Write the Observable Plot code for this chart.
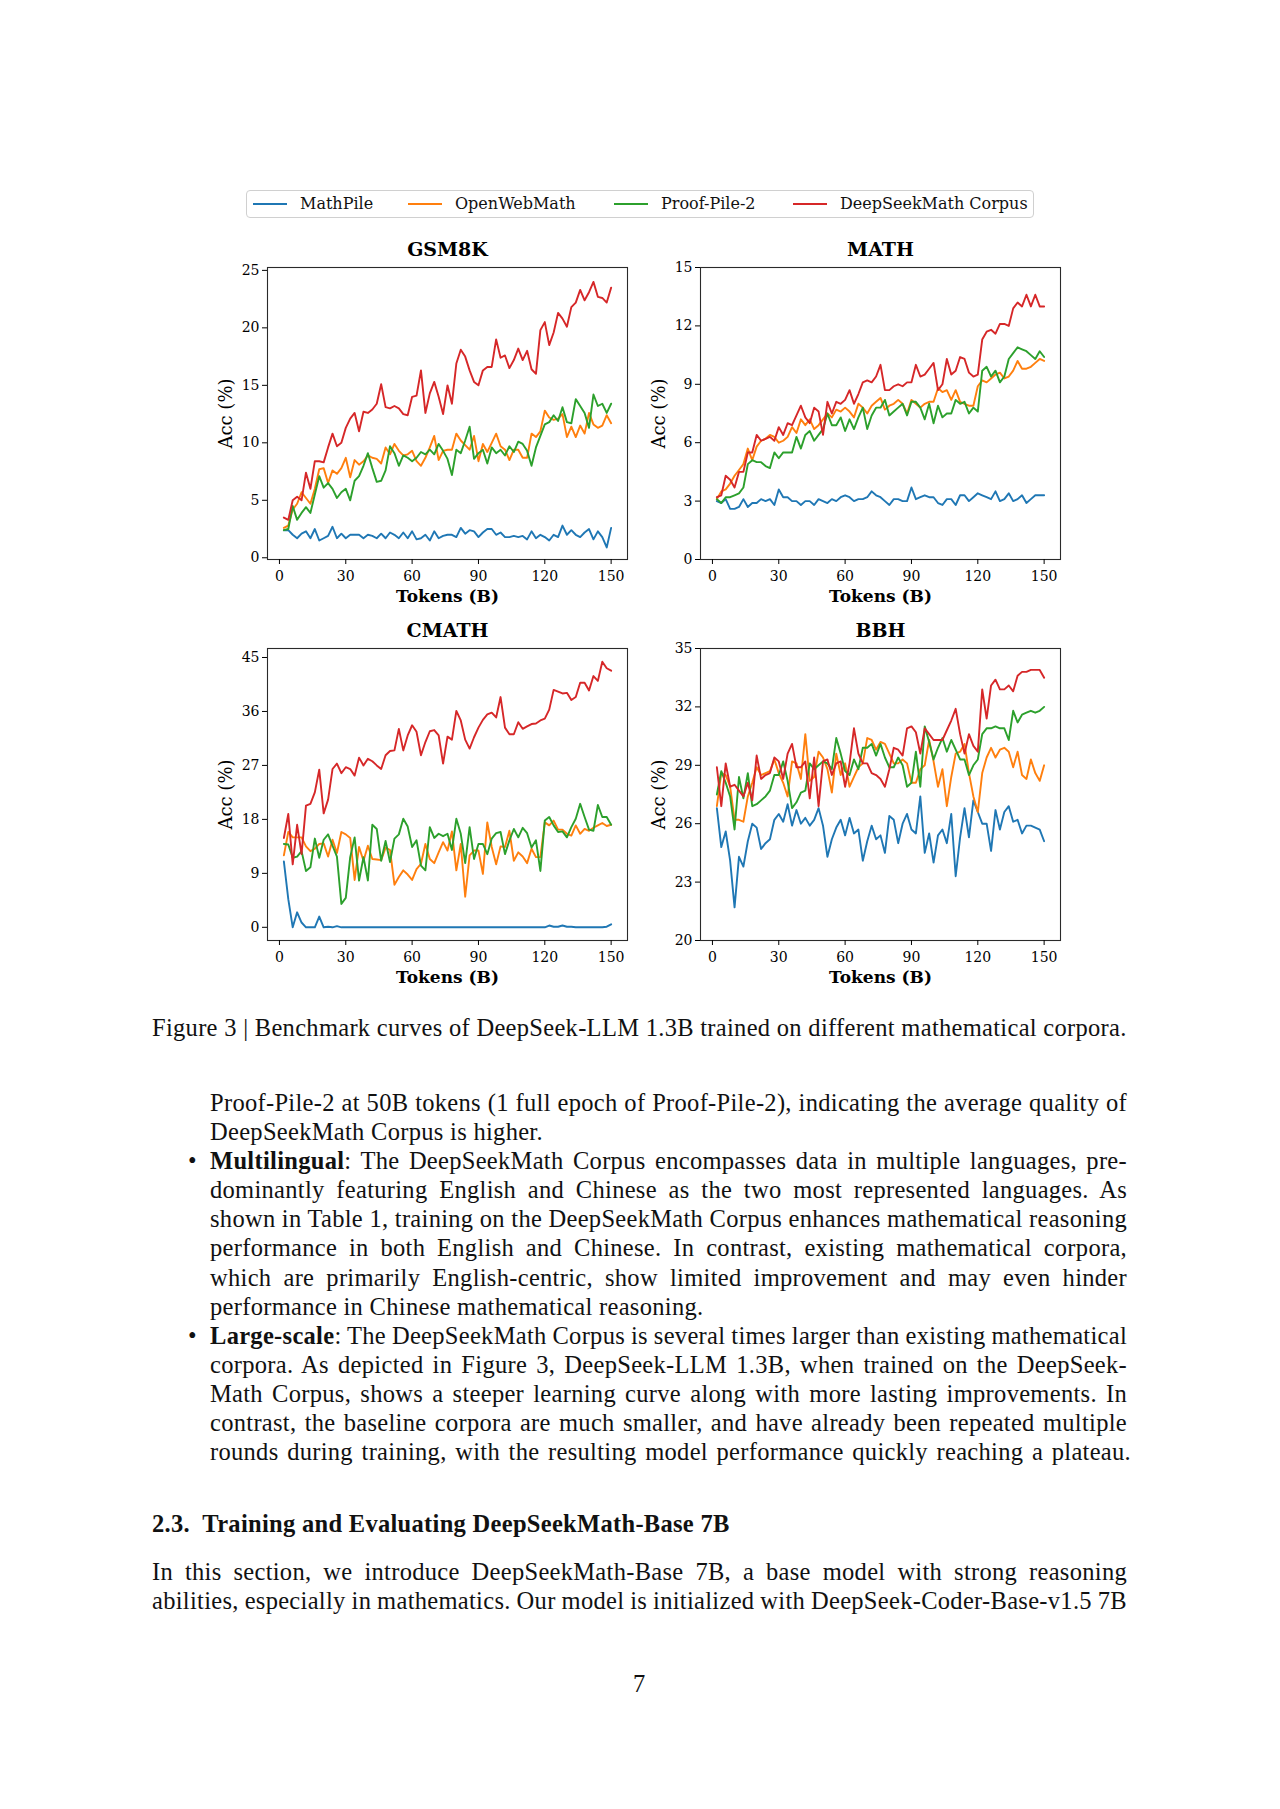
<!DOCTYPE html>
<html><head><meta charset="utf-8">
<script src="https://cdn.jsdelivr.net/npm/d3@7"></script>
<script src="https://cdn.jsdelivr.net/npm/@observablehq/plot@0.6"></script>
<style>
html,body{margin:0;padding:0;background:#fff;}
body{width:1280px;height:1809px;position:relative;overflow:hidden;color:#111;font-family:"Liberation Serif",serif;}
.panel{position:absolute;}
.panel svg{overflow:visible;}
#legend{position:absolute;left:246px;top:190px;width:788px;height:28px;border:1px solid #d0d0d0;border-radius:4px;box-sizing:border-box;font-family:"DejaVu Serif",serif;font-size:16px;color:#111;}
.lgline{position:absolute;top:12px;width:34px;height:2px;}
.lgtext{position:absolute;top:0;line-height:26px;white-space:nowrap;}
.tl{position:absolute;font-size:24.5px;letter-spacing:0.3px;line-height:29px;height:29px;white-space:nowrap;}
.tl b{font-weight:bold;}
</style>
</head><body>
<div id="legend"></div>
<div id="p0" class="panel"></div>
<div id="p1" class="panel"></div>
<div id="p2" class="panel"></div>
<div id="p3" class="panel"></div>

<div class="tl" style="left:152px;top:1013px;">Figure 3 | Benchmark curves of DeepSeek-LLM 1.3B trained on different mathematical corpora.</div>

<div class="tl j" data-w="917" style="left:210px;top:1088px;">Proof-Pile-2 at 50B tokens (1 full epoch of Proof-Pile-2), indicating the average quality of</div>
<div class="tl" style="left:210px;top:1117px;">DeepSeekMath Corpus is higher.</div>

<div class="tl" style="left:188px;top:1146px;">•</div>
<div class="tl j" data-w="917" style="left:210px;top:1146px;"><b>Multilingual</b>: The DeepSeekMath Corpus encompasses data in multiple languages, pre-</div>
<div class="tl j" data-w="917" style="left:210px;top:1175px;">dominantly featuring English and Chinese as the two most represented languages. As</div>
<div class="tl j" data-w="917" style="left:210px;top:1204px;">shown in Table 1, training on the DeepSeekMath Corpus enhances mathematical reasoning</div>
<div class="tl j" data-w="917" style="left:210px;top:1233px;">performance in both English and Chinese. In contrast, existing mathematical corpora,</div>
<div class="tl j" data-w="917" style="left:210px;top:1263px;">which are primarily English-centric, show limited improvement and may even hinder</div>
<div class="tl" style="left:210px;top:1292px;">performance in Chinese mathematical reasoning.</div>

<div class="tl" style="left:188px;top:1321px;">•</div>
<div class="tl j" data-w="917" style="left:210px;top:1321px;"><b>Large-scale</b>: The DeepSeekMath Corpus is several times larger than existing mathematical</div>
<div class="tl j" data-w="917" style="left:210px;top:1350px;">corpora. As depicted in Figure 3, DeepSeek-LLM 1.3B, when trained on the DeepSeek-</div>
<div class="tl j" data-w="917" style="left:210px;top:1379px;">Math Corpus, shows a steeper learning curve along with more lasting improvements. In</div>
<div class="tl j" data-w="917" style="left:210px;top:1408px;">contrast, the baseline corpora are much smaller, and have already been repeated multiple</div>
<div class="tl j" data-w="921" style="left:210px;top:1437px;">rounds during training, with the resulting model performance quickly reaching a plateau.</div>

<div class="tl" style="left:152px;top:1509px;font-weight:bold;">2.3.&nbsp; Training and Evaluating DeepSeekMath-Base 7B</div>

<div class="tl j" data-w="975" style="left:152px;top:1557px;">In this section, we introduce DeepSeekMath-Base 7B, a base model with strong reasoning</div>
<div class="tl j" data-w="975" style="left:152px;top:1586px;">abilities, especially in mathematics. Our model is initialized with DeepSeek-Coder-Base-v1.5 7B</div>

<div class="tl" style="left:633px;top:1669px;">7</div>

<script>
// ---------------- data ----------------
const tokens = [2,4,6,8,10,12,14,16,18,20,22,24,26,28,30,32,34,36,38,40,42,44,46,48,50,52,54,56,58,60,62,64,66,68,70,72,74,76,78,80,82,84,86,88,90,92,94,96,98,100,102,104,106,108,110,112,114,116,118,120,122,124,126,128,130,132,134,136,138,140,142,144,146,148,150];
const seriesNames = ["MathPile", "OpenWebMath", "Proof-Pile-2", "DeepSeekMath Corpus"];
const seriesColors = ["#1f77b4", "#ff7f0e", "#2ca02c", "#d62728"];
const panelTitles = ["GSM8K", "MATH", "CMATH", "BBH"];
const xTicks = [0, 30, 60, 90, 120, 150];
const gsm8kTicks = [0, 5, 10, 15, 20, 25];
const mathTicks = [0, 3, 6, 9, 12, 15];
const cmathTicks = [0, 9, 18, 27, 36, 45];
const bbhTicks = [20, 23, 26, 29, 32, 35];
const xLabel = "Tokens (B)";
const yLabel = "Acc (%)";

const gsm8kMathPile = [2.4,2.4,2.0,1.7,2.1,2.3,1.7,2.5,1.5,1.7, 1.9,2.7,1.7,2.1,1.7,2.0,2.0,2.0,1.7,2.0, 1.9,1.7,2.1,1.7,2.2,2.0,1.7,2.2,1.7,2.3, 1.6,1.7,2.0,1.5,2.3,1.7,1.9, 2.0,2.0,1.8,2.6,2.1,2.4,2.3,1.8,2.2,2.5,2.5,2.0,2.2,1.8,1.8,1.9,1.8,1.9,1.6,2.3,1.7,2.0,1.8,1.5,2.0,1.8,2.8,2.0,2.4,2.0,1.8,2.2,2.5,1.6,2.3,1.8,0.9,2.6];
const gsm8kOpenWebMath = [2.6,2.8,4.2,4.7,5.7,5.2,4.7,6.0,7.7,7.8, 6.5,7.6,7.3,7.8,8.7,7.0,8.5,8.1,8.4,8.9, 8.7,8.6,8.2,9.6,9.0,9.9,9.3,8.9,9.0,9.3, 8.4,8.0,8.7,9.6,10.6,8.5,9.3, 9.4,9.4,10.8,10.2,9.8,9.4,10.6,8.4,9.9,9.2,10.0,10.8,9.7,9.4,8.5,9.4,9.4,8.7,8.7,10.8,10.5,11.0,12.8,12.2,12.0,12.1,12.5,10.5,11.4,10.5,11.5,10.8,12.6,11.6,11.3,11.5,12.4,11.7];
const gsm8kProofPile2 = [2.4,2.5,4.5,3.3,3.9,4.4,3.9,5.5,7.1,6.1, 6.5,6.0,5.2,5.7,6.0,5.0,6.7,7.1,8.0,9.1, 7.8,6.6,6.7,7.6,9.7,9.1,8.0,8.9,8.7,8.4, 8.7,9.2,9.0,9.4,9.0,9.9,9.3, 8.6,7.2,9.4,9.1,10.2,11.4,8.6,9.1,9.4,8.2,9.6,9.1,9.4,8.9,9.7,9.2,10.1,9.9,9.3,8.0,9.6,10.6,11.6,11.8,12.4,11.9,13.1,11.8,11.7,13.8,13.2,12.6,11.3,14.2,13.2,13.4,12.6,13.4];
const gsm8kDeepSeekMath = [3.5,3.3,5.0,5.3,5.0,7.4,6.0,8.4,8.4,8.3, 9.6,10.8,9.7,10.0,11.3,12.1,12.6,11.0,12.7,12.6, 12.9,13.4,15.1,13.1,13.0,13.2,13.0,12.5,12.4,14.0, 14.1,16.3,12.6,14.3,15.3,14.0,12.5,15.0,13.4,16.9, 18.1,17.5,16.3,15.3,15.0,16.3,16.6,16.6,19.0,17.4, 17.6,16.5,17.2,18.2,17.2,18.0,16.4,16.0,19.8,20.5, 18.5,19.6,21.3,20.8,20.1,21.8,22.2,23.3,22.4,23.1, 24.0,22.7,22.6,22.2,23.5];

const mathMathPile = [3.0,2.9,3.1,2.6,2.6,2.7,3.1,2.7,2.9,2.9, 3.1,3.0,3.1,2.8,3.6,3.2,3.2,3.0,3.0,2.8, 3.0,3.0,2.8,3.1,3.0,2.9,3.1,3.0,3.2,3.3, 3.2,3.0,3.1,3.1,3.2,3.5,3.3, 3.2,3.0,2.8,3.1,3.1,3.0,3.0,3.7,3.1,3.2,3.3,3.2,3.2,2.9,2.8,3.1,3.1,2.8,3.3,3.3,3.0,3.2,3.4,3.3,3.2,3.1,3.5,3.0,3.1,3.4,3.0,3.1,3.3,2.9,3.1,3.3,3.3,3.3];
const mathOpenWebMath = [3.1,3.5,3.6,3.9,4.3,4.6,4.9,5.7,5.1,5.8, 6.1,6.2,6.4,6.3,6.0,6.1,6.3,6.8,6.5,7.2, 6.9,7.2,6.7,6.9,7.2,7.5,7.3,7.7,7.6,7.8, 7.6,7.3,8.0,7.8,7.5,7.9,8.1, 8.3,7.7,7.9,8.0,8.2,8.0,7.5,8.2,8.0,7.8,8.0,8.1,8.1,8.8,8.6,8.7,8.2,8.7,8.1,8.0,7.9,7.9,8.9,9.2,9.1,9.3,9.5,9.6,9.3,9.4,9.7,10.2,9.8,9.8,9.9,10.1,10.3,10.2];
const mathProofPile2 = [3.1,2.9,3.2,3.2,3.3,3.4,3.7,4.9,5.1,5.0, 5.0,4.8,4.7,5.5,5.2,5.5,5.5,5.5,6.3,5.7, 6.4,6.6,6.1,6.4,6.7,7.5,6.9,6.9,7.3,6.6, 7.2,6.7,7.3,7.8,6.7,7.4,7.8, 7.8,8.2,7.4,7.6,7.8,8.0,7.4,8.1,8.1,7.8,7.2,8.0,7.0,7.9,7.3,7.5,7.5,8.2,8.0,8.1,7.5,7.8,7.6,9.7,9.9,9.4,9.7,9.1,9.4,10.3,10.6,10.9,10.8,10.7,10.5,10.3,10.7,10.4];
const mathDeepSeekMath = [3.2,3.3,4.3,4.1,3.7,4.5,4.5,5.5,5.5,6.4, 6.1,6.2,6.3,6.1,6.8,6.4,7.0,6.9,7.4,7.9, 7.3,7.0,7.8,7.6,6.4,8.1,7.5,8.1,8.0,8.2, 8.7,8.0,8.5,9.1,9.2,9.1,9.4, 10.0,8.7,8.7,8.9,9.0,8.9,9.1,9.1,10.0,9.4,9.5,9.8,10.1,8.7,9.0,10.3,9.5,9.7,10.4,10.3,9.6,9.4,9.5,11.3,11.7,11.8,11.6,12.1,12.1,12.0,12.9,13.2,13.0,13.6,13.0,13.6,13.0,13.0];

const cmathMathPile = [11.0,4.7,0.0,2.5,0.8,0,0,0,1.8,0, 0.1,0,0.2,0,0,0,0,0,0,0, 0,0,0,0,0,0,0,0,0,0, 0,0,0,0,0,0,0,0,0,0, 0,0,0,0,0,0,0,0,0,0, 0,0,0,0,0,0,0,0,0,0, 0.3,0.1,0.1,0.3,0.1,0.1,0,0,0,0, 0,0,0,0.1,0.5];
const cmathOpenWebMath = [12.0,15.9,15.0,15.0,15.0,13.5,12.7,13.1,13.9,14.0, 11.8,14.6,12.4,15.9,15.5,14.9,7.9,13.4,11.1,13.6, 11.4,11.3,11.2,13.3,12.9,7.1,8.4,9.5,8.8,7.9, 9.7,10.6,13.9,11.4,10.7,12.5,14.2, 12.8,16.0,9.5,13.9,5.1,12.0,12.8,12.8,8.9,17.5,13.4,10.5,13.5,13.4,16.1,11.1,12.5,11.8,10.7,13.1,11.7,11.7,17.5,17.0,17.8,16.3,16.3,15.6,15.3,17.0,15.6,16.4,16.1,16.6,17.0,17.4,16.9,17.1];
const cmathProofPile2 = [13.9,13.8,11.6,11.8,12.7,9.4,10.0,14.8,11.6,14.6, 15.5,13.6,11.8,3.9,4.9,11.7,15.0,7.8,11.7,7.8, 17.1,16.4,11.1,14.4,10.9,14.8,15.5,18.1,16.8,13.4, 14.5,10.3,9.5,16.7,14.9,15.6,15.2, 15.6,12.9,18.1,15.6,10.7,16.7,11.4,13.9,13.9,12.2,14.8,15.7,15.9,12.2,14.5,16.4,15.0,16.6,15.7,13.3,14.5,9.4,17.8,18.4,17.0,15.9,16.0,15.0,16.7,18.1,20.6,18.4,16.3,16.1,20.4,18.4,18.4,17.1];
const cmathDeepSeekMath = [14.9,18.9,10.5,17.1,12.2,20.3,20.6,22.5,26.3,19.0, 21.3,26.4,27.3,25.7,26.7,26.4,25.3,28.3,27.0,28.1, 27.7,27.0,26.4,28.7,29.4,29.5,33.1,29.5,32.0,33.7, 32.6,28.7,30.9,32.7,32.9,32.0,27.3, 31.8,31.3,36.1,34.5,31.3,29.8,31.7,33.3,34.6,35.5,35.8,35.0,38.4,33.3,32.2,32.2,34.2,33.1,33.5,33.9,34.0,34.5,34.8,36.3,39.6,39.3,39.0,39.1,37.9,38.4,40.8,40.8,39.5,41.9,41.1,44.3,43.2,42.8];

const bbhMathPile = [26.8,24.8,25.6,24.1,21.7,24.3,23.8,25.1,26.0,25.8, 24.7,25.0,25.2,26.2,26.5,26.1,27.0,25.9,26.7,26.0, 26.3,25.9,26.2,26.8,25.9,24.3,25.2,25.8,26.2,25.4, 26.3,25.5,25.7,24.1,25.1,25.9,25.2, 25.4,24.5,26.4,26.2,25.0,26.0,26.5,25.7,25.5,27.4,24.5,25.5,24.0,25.4,25.7,25.0,26.5,23.3,25.3,26.8,25.3,27.2,26.6,26.0,26.0,24.6,26.7,25.7,26.6,26.9,26.1,26.2,25.5,25.9,25.9,25.8,25.7,25.1];
const bbhOpenWebMath = [26.9,28.6,28.5,27.9,26.2,26.2,26.1,27.4,28.1,28.9, 28.5,28.6,28.7,29.3,28.6,28.1,27.4,29.2,29.1,28.3, 30.6,28.2,28.4,29.7,29.4,28.8,27.6,29.6,28.5,29.1, 27.9,28.4,28.9,29.1,30.4,30.3,29.8, 30.2,30.1,29.6,29.1,29.1,29.3,29.1,28.1,28.1,28.8,29.0,30.3,29.2,27.9,28.8,26.9,28.4,29.6,29.7,30.1,28.6,27.4,26.6,28.6,29.4,29.9,29.4,29.8,29.9,29.7,28.9,29.7,28.5,28.3,29.3,28.6,28.2,29.0];
const bbhProofPile2 = [27.5,28.7,28.1,27.4,25.7,28.4,27.3,28.6,26.9,27.0, 27.2,27.4,27.7,28.5,28.5,29.2,28.2,26.8,27.1,27.6, 27.7,29.1,28.8,29.0,29.2,29.1,28.8,30.4,29.6,28.7, 28.5,29.3,28.8,29.9,29.9,30.1,29.5, 30.1,29.4,28.9,28.9,29.4,29.0,27.9,28.1,29.7,27.9,31.0,30.2,29.3,29.9,30.4,29.7,30.3,29.8,29.3,29.3,28.5,29.0,29.3,30.6,30.9,30.9,31.0,30.9,30.9,30.3,31.8,31.2,31.6,31.7,31.8,31.7,31.8,32.0];
const bbhDeepSeekMath = [28.9,26.9,29.1,27.9,28.0,27.7,27.4,28.1,27.2,29.5, 28.3,28.5,28.6,29.4,29.2,28.3,29.6,30.1,28.9,28.9, 29.2,27.3,29.4,26.9,29.2,29.3,28.5,29.1,29.2,27.9, 29.1,30.9,29.6,29.1,29.1,28.6,28.5, 28.3,27.9,28.8,29.9,29.8,29.5,30.9,31.0,30.7,29.6,30.9,30.6,30.3,30.3,30.3,30.8,31.3,31.9,30.6,29.6,30.6,30.0,29.7,32.9,31.4,33.1,33.4,32.9,32.9,33.1,32.8,33.6,33.8,33.8,33.9,33.9,33.9,33.5];

// ---------------- legend ----------------
const legendX = [6, 161, 367, 546];
const legend = document.getElementById("legend");
seriesNames.forEach((name, i) => {
  const ln = document.createElement("div");
  ln.className = "lgline"; ln.style.left = legendX[i] + "px"; ln.style.background = seriesColors[i];
  const tx = document.createElement("div");
  tx.className = "lgtext"; tx.style.left = (legendX[i] + 47) + "px"; tx.textContent = name;
  legend.appendChild(ln); legend.appendChild(tx);
});

// ---------------- panels ----------------
const panels = [
  {id: "p0", title: panelTitles[0], values: [gsm8kMathPile, gsm8kOpenWebMath, gsm8kProofPile2, gsm8kDeepSeekMath], yDomain: [-0.15, 25.25], yTicks: gsm8kTicks, left: 200, top: 225},
  {id: "p1", title: panelTitles[1], values: [mathMathPile, mathOpenWebMath, mathProofPile2, mathDeepSeekMath], yDomain: [0, 15], yTicks: mathTicks, left: 633, top: 225},
  {id: "p2", title: panelTitles[2], values: [cmathMathPile, cmathOpenWebMath, cmathProofPile2, cmathDeepSeekMath], yDomain: [-2.2, 46.5], yTicks: cmathTicks, left: 200, top: 606},
  {id: "p3", title: panelTitles[3], values: [bbhMathPile, bbhOpenWebMath, bbhProofPile2, bbhDeepSeekMath], yDomain: [20, 35], yTicks: bbhTicks, left: 633, top: 606}
];

const chartFont = '"DejaVu Serif", serif';
for (const p of panels) {
  const rows = [];
  seriesNames.forEach((name, i) => p.values[i].forEach((v, j) => rows.push({series: name, tokens: tokens[j], value: v})));
  const chart = Plot.plot({
    width: 439, height: 384,
    marginLeft: 67, marginRight: 12, marginTop: 42, marginBottom: 50,
    style: {fontFamily: chartFont, fontSize: "14px", color: "#000", background: "transparent", overflow: "visible"},
    x: {domain: [-5.4, 157.4]},
    y: {domain: p.yDomain},
    color: {domain: seriesNames, range: seriesColors},
    marks: [
      Plot.lineY(rows, {x: "tokens", y: "value", z: "series", stroke: "series", strokeWidth: 1.9, strokeLinejoin: "round"}),
      Plot.frame({stroke: "#2a2a2a", strokeWidth: 1.1}),
      Plot.axisX({ticks: xTicks, tickSize: 5, tickPadding: 7, label: null, fontSize: 14}),
      Plot.axisY({ticks: p.yTicks, tickSize: 5, tickPadding: 3, label: null, fontSize: 14}),
      Plot.text([p.title], {text: d => d, frameAnchor: "top", lineAnchor: "middle", dy: -18, fontWeight: "bold", fontSize: 19, fill: "#000"}),
      Plot.text([xLabel], {text: d => d, frameAnchor: "bottom", lineAnchor: "middle", dy: 37, fontWeight: "bold", fontSize: 17, fill: "#000"}),
      Plot.text([yLabel], {text: d => d, frameAnchor: "left", textAnchor: "middle", lineAnchor: "middle", dx: -41, rotate: -90, fontSize: 18, fill: "#000"})
    ]
  });
  const host = document.getElementById(p.id);
  host.style.left = p.left + "px";
  host.style.top = p.top + "px";
  host.appendChild(chart);
}

// ---------------- justify single lines ----------------
function justifyLines() {
  document.querySelectorAll(".tl.j").forEach(el => {
    el.style.wordSpacing = "0px";
    const target = +el.dataset.w;
    const range = document.createRange();
    range.selectNodeContents(el);
    const w = range.getBoundingClientRect().width;
    const spaces = (el.textContent.match(/ /g) || []).length;
    if (spaces > 0) el.style.wordSpacing = ((target - w) / spaces) + "px";
  });
}
justifyLines();
if (document.fonts && document.fonts.ready) document.fonts.ready.then(justifyLines);
</script>
</body></html>
